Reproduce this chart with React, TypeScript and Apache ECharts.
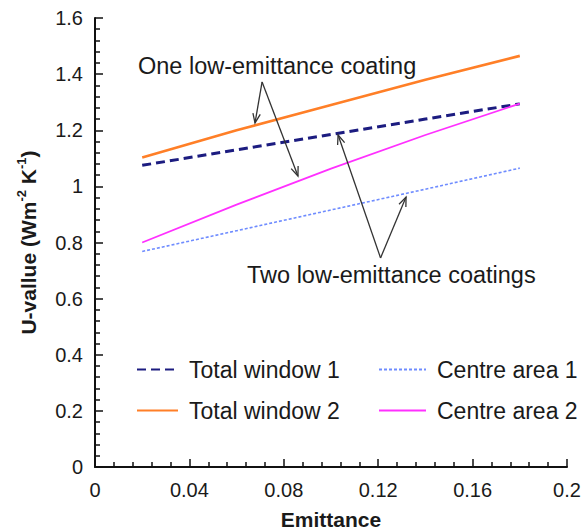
import React, { useEffect, useRef } from "react";
import * as echarts from "echarts";

const emittance = [0.02, 0.06, 0.1, 0.14, 0.18];
const totalWindow1 = [1.075, 1.13, 1.185, 1.24, 1.294];
const totalWindow2 = [1.103, 1.2, 1.29, 1.38, 1.465];
const centreArea1 = [0.768, 0.842, 0.916, 0.99, 1.065];
const centreArea2 = [0.8, 0.935, 1.063, 1.183, 1.295];

// annotation arrows: [fromX, fromY, toX, toY] in data units
const arrowsOne = [
  [0.0708, 1.372, 0.0678, 1.226],
  [0.0708, 1.372, 0.086, 1.037],
];
const arrowsTwo = [
  [0.121, 0.745, 0.103, 1.183],
  [0.121, 0.745, 0.1318, 0.962],
];

const FONT = "Liberation Sans, Arial, sans-serif";

function pairs(ys: number[]) {
  return emittance.map((x, i) => [x, ys[i]]);
}

export default function App() {
  const ref = useRef<HTMLDivElement>(null);
  useEffect(() => {
    document.body.style.margin = "0";
    if (!ref.current) return;
    const chart = echarts.init(ref.current, null, { renderer: "svg" });
    const arrowRender = (params: any, api: any) => {
      const p0 = api.coord([api.value(0), api.value(1)]);
      const p1 = api.coord([api.value(2), api.value(3)]);
      const ang = Math.atan2(p1[1] - p0[1], p1[0] - p0[0]);
      const L = 10;
      const a = 0.38;
      const h1 = [p1[0] - L * Math.cos(ang - a), p1[1] - L * Math.sin(ang - a)];
      const h2 = [p1[0] - L * Math.cos(ang + a), p1[1] - L * Math.sin(ang + a)];
      return {
        type: "group",
        children: [
          {
            type: "line",
            shape: { x1: p0[0], y1: p0[1], x2: p1[0], y2: p1[1] },
            style: { stroke: "#333", lineWidth: 1.3 },
          },
          {
            type: "polyline",
            shape: { points: [h1, p1, h2] },
            style: { stroke: "#333", fill: null, lineWidth: 1.3 },
          },
        ],
      };
    };
    const legendText = {
      fontFamily: FONT,
      fontSize: 23,
      color: "#1a1a1a",
      padding: [0, 0, 0, 6],
      lineHeight: 22,
    };
    const legendBase = {
      orient: "vertical",
      top: 358,
      padding: 0,
      itemHeight: 2,
      itemGap: 18,
      itemStyle: { opacity: 0 },
      textStyle: legendText,
    };
    chart.setOption({
      animation: false,
      backgroundColor: "#fff",
      grid: { left: 95, right: 20, top: 18, bottom: 65, outerBoundsMode: "none", containLabel: false },
      xAxis: {
        type: "value",
        min: 0,
        max: 0.2,
        interval: 0.04,
        name: "Emittance",
        nameLocation: "middle",
        nameGap: 42,
        nameTextStyle: { fontFamily: FONT, fontSize: 21, fontWeight: "bold", color: "#1a1a1a" },
        axisLine: { show: true, lineStyle: { color: "#111", width: 2 } },
        axisTick: { show: true, inside: true, length: 8, lineStyle: { color: "#111", width: 1.5 } },
        minorTick: { show: true, splitNumber: 5, length: 5, lineStyle: { color: "#111", width: 1.5 } },
        splitLine: { show: false },
        axisLabel: { fontFamily: FONT, fontSize: 20, color: "#1a1a1a", margin: 13 },
      },
      yAxis: {
        type: "value",
        min: 0,
        max: 1.6,
        interval: 0.2,
        name: "{a|U-vallue (Wm}{s|-2}{a| K}{s|-1}{a|)}",
        nameLocation: "middle",
        nameGap: 54,
        nameTextStyle: {
          rich: {
            a: { fontFamily: FONT, fontSize: 21, fontWeight: "bold", color: "#1a1a1a", lineHeight: 26 },
            s: { fontFamily: FONT, fontSize: 13, fontWeight: "bold", color: "#1a1a1a", lineHeight: 14, verticalAlign: "top" },
          },
        },
        axisLine: { show: true, lineStyle: { color: "#111", width: 2 } },
        axisTick: { show: true, inside: true, length: 8, lineStyle: { color: "#111", width: 1.5 } },
        minorTick: { show: true, splitNumber: 5, length: 5, lineStyle: { color: "#111", width: 1.5 } },
        splitLine: { show: false },
        axisLabel: { fontFamily: FONT, fontSize: 20, color: "#1a1a1a", margin: 12 },
      },
      legend: [
        { ...legendBase, data: ["Total window 1", "Total window 2"], left: 136, itemWidth: 41 },
        { ...legendBase, data: ["Centre area 1", "Centre area 2"], left: 378, itemWidth: 47 },
      ],
      graphic: [
        {
          type: "text",
          left: 138,
          top: 54,
          style: { text: "One low-emittance coating", font: `23.5px ${FONT}`, fill: "#1a1a1a" },
        },
        {
          type: "text",
          left: 247,
          top: 263,
          style: { text: "Two low-emittance coatings", font: `23.5px ${FONT}`, fill: "#1a1a1a" },
        },
      ],
      series: [
        {
          name: "Total window 1",
          type: "line",
          symbol: "none",
          data: pairs(totalWindow1),
          lineStyle: { color: "#1c1c80", width: 3, type: [9, 5] },
          itemStyle: { color: "#1c1c80" },
        },
        {
          name: "Total window 2",
          type: "line",
          symbol: "none",
          data: pairs(totalWindow2),
          lineStyle: { color: "#ff7f27", width: 2.6 },
          itemStyle: { color: "#ff7f27" },
        },
        {
          name: "Centre area 1",
          type: "line",
          symbol: "none",
          data: pairs(centreArea1),
          lineStyle: { color: "#6f8cff", width: 1.6, type: [3, 2] },
          itemStyle: { color: "#6f8cff" },
        },
        {
          name: "Centre area 2",
          type: "line",
          symbol: "none",
          data: pairs(centreArea2),
          lineStyle: { color: "#ff30ff", width: 1.8 },
          itemStyle: { color: "#ff30ff" },
        },
        {
          name: "arrows",
          type: "custom",
          renderItem: arrowRender,
          data: [...arrowsOne, ...arrowsTwo],
          encode: { x: [0, 2], y: [1, 3] },
          silent: true,
          z: 5,
        },
      ],
    });
    return () => chart.dispose();
  }, []);
  return <div ref={ref} style={{ width: 587, height: 532 }} />;
}
